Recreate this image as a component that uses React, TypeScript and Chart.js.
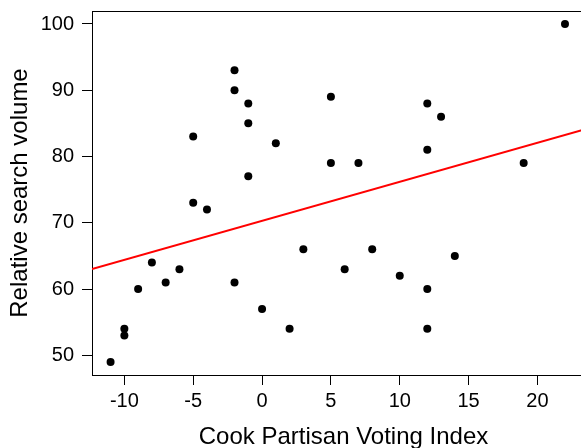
import React, { useEffect, useRef } from "react";
import { Chart, registerables } from "chart.js";

Chart.register(...registerables);

const pviValues = [-2, -2, -1, -1, -5, 1, -1, -5, -4, 5, 22, 12, 13, 12, 5, 7, 19, -8, -6, -9, -7, -2, 0, 2, -10, -10, -11, 3, 8, 6, 10, 12, 14, 12];
const searchValues = [93, 90, 88, 85, 83, 82, 77, 73, 72, 89, 100, 88, 86, 81, 79, 79, 79, 64, 63, 60, 61, 61, 57, 54, 54, 53, 49, 66, 66, 63, 62, 60, 65, 54];
const fitX = [-12.35, 24.18];
const fitY = [63.0, 84.54];
const xTicks = [-10, -5, 0, 5, 10, 15, 20];
const yTicks = [50, 60, 70, 80, 90, 100];
const xTitle = "Cook Partisan Voting Index";
const yTitle = "Relative search volume";

const FONT = "'Liberation Sans', Arial, sans-serif";

export default function App() {
  const ref = useRef<HTMLCanvasElement | null>(null);
  useEffect(() => {
    if (!ref.current) return;
    const boxPlugin = {
      id: "box",
      afterDraw(chart: any) {
        const { ctx, chartArea } = chart;
        ctx.save();
        ctx.strokeStyle = "#000";
        ctx.lineWidth = 1;
        ctx.beginPath();
        ctx.moveTo(chartArea.left, chartArea.top + 0.5);
        ctx.lineTo(chartArea.right, chartArea.top + 0.5);
        ctx.lineTo(chartArea.right, chartArea.bottom);
        ctx.stroke();
        ctx.restore();
      },
    };
    const chart = new Chart(ref.current, {
      type: "scatter",
      data: {
        datasets: [
          {
            type: "line",
            data: fitX.map((x, i) => ({ x, y: fitY[i] })),
            borderColor: "#ff0000",
            borderWidth: 2,
            pointRadius: 0,
            fill: false,
          } as any,
          {
            data: pviValues.map((x, i) => ({ x, y: searchValues[i] })),
            backgroundColor: "#000",
            borderColor: "#000",
            pointRadius: 4,
            pointBorderWidth: 0,
          },
        ],
      },
      options: {
        responsive: false,
        animation: false,
        devicePixelRatio: 1,
        layout: { padding: { top: 11, right: 5, left: 0, bottom: 0 } },
        plugins: { legend: { display: false }, tooltip: { enabled: false } },
        scales: {
          x: {
            type: "linear",
            min: -12.35,
            max: 24.18,
            afterBuildTicks: (s: any) => {
              s.ticks = xTicks.map((v) => ({ value: v }));
            },
            afterFit: (s: any) => {
              s.height = 73;
              s.paddingLeft = 0;
              s.paddingRight = 0;
            },
            grid: { drawOnChartArea: false, tickLength: 10, color: "#000", tickColor: "#000" },
            border: { color: "#000", width: 1 },
            ticks: { color: "#000", font: { family: FONT, size: 20 }, padding: 4, maxRotation: 0 },
            title: {
              display: true,
              text: xTitle,
              color: "#000",
              font: { family: FONT, size: 24, lineHeight: 1 },
              padding: { top: 0, bottom: -1 },
            },
          },
          y: {
            type: "linear",
            min: 47.02,
            max: 101.96,
            afterBuildTicks: (s: any) => {
              s.ticks = yTicks.map((v) => ({ value: v }));
            },
            afterFit: (s: any) => {
              s.width = 92;
              s.paddingTop = 0;
              s.paddingBottom = 0;
            },
            grid: { drawOnChartArea: false, tickLength: 10, color: "#000", tickColor: "#000" },
            border: { color: "#000", width: 1 },
            ticks: { color: "#000", font: { family: FONT, size: 20 }, padding: 8 },
            title: {
              display: true,
              text: yTitle,
              color: "#000",
              font: { family: FONT, size: 24, lineHeight: 1 },
              padding: { top: 8.6, bottom: 0 },
            },
          },
        },
      },
      plugins: [boxPlugin],
    });
    return () => chart.destroy();
  }, []);
  return (
    <div style={{ position: "absolute", left: 0, top: 0, width: 581, height: 448, overflow: "hidden", background: "#fff" }}>
      <canvas ref={ref} width={600} height={448} style={{ width: 600, height: 448, display: "block" }} />
    </div>
  );
}
